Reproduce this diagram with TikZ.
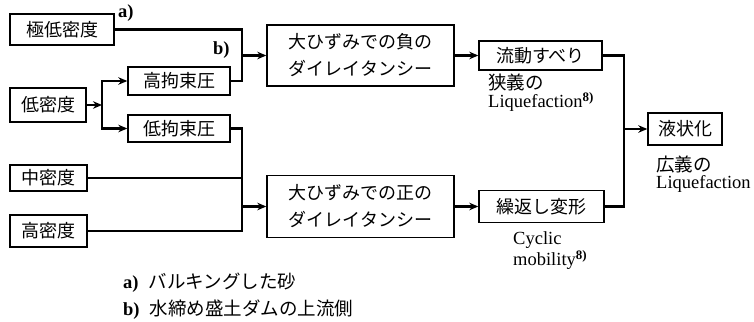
\documentclass[tikz,border=0pt]{standalone}
\usepackage{fontspec}
\setmainfont{Liberation Serif}
\newfontfamily\jp{Noto Sans CJK JP}
\usetikzlibrary{arrows.meta,calc}
\begin{document}
\begin{tikzpicture}[x=1pt,y=-1pt,
  font=\fontsize{18}{27}\selectfont,
  box/.style={draw,line width=1.4pt,inner sep=0pt,align=center,font=\fontsize{18}{27}\selectfont\jp},
  conn/.style={line width=2.2pt},
  arr/.style={conn,-{Stealth[length=9pt,width=7.5pt]}},
  lbl/.style={inner sep=0pt,anchor=west,align=left,font=\fontsize{18.5}{27}\selectfont}]
\useasboundingbox (0,0) rectangle (754,321);
% boxes
\node[box,minimum width=104pt,minimum height=31pt] (vld) at (62,29.5) {極低密度};
\node[box,minimum width=76pt,minimum height=34pt] (ld) at (48,105) {低密度};
\node[box,minimum width=77pt,minimum height=26pt] (md) at (48.5,178) {中密度};
\node[box,minimum width=77pt,minimum height=32pt] (hd) at (48.5,231) {高密度};
\node[box,minimum width=102pt,minimum height=28pt] (hc) at (179,81) {高拘束圧};
\node[box,minimum width=102pt,minimum height=27pt] (lc) at (179,128.5) {低拘束圧};
\node[box,minimum width=187pt,minimum height=61pt] (big1) at (360.5,55.5) {大ひずみでの負の\\ダイレイタンシー};
\node[box,minimum width=187pt,minimum height=62pt] (big2) at (360.5,206.5) {大ひずみでの正の\\ダイレイタンシー};
\node[box,minimum width=123pt,minimum height=29pt] (flow) at (540.5,55.5) {流動すべり};
\node[box,minimum width=125pt,minimum height=32pt] (cyc) at (541.5,206.5) {繰返し変形};
\node[box,minimum width=74pt,minimum height=32pt] (liq) at (685,129) {液状化};
% junctions
\coordinate (j1) at (242,55.5);
\coordinate (j2) at (102,105);
\coordinate (j3) at (242,206.5);
\coordinate (j3b) at (242,231);
\coordinate (j4) at (624,129);
% connectors
\draw[conn] (vld.east) -| (j1);
\draw[conn] (hc.east) -| (j1);
\draw[arr] (j1) -- (big1.west);
\draw[arr] (ld.east) -- (j2);
\draw[arr] (j2) |- (hc.west);
\draw[arr] (j2) |- (lc.west);
\draw[conn] (lc.east) -| (j3b) -- (hd.east);
\draw[conn] (md.east) -- (md.east -| j3b);
\draw[arr] (j3) -- (big2.west);
\draw[arr] (big1.east) -- (flow.west);
\draw[arr] (big2.east) -- (cyc.west);
\draw[conn] (flow.east) -| (j4);
\draw[conn] (cyc.east) -| (j4);
\draw[arr] (j4) -- (liq.west);
% labels
\node[lbl] (la) at (118,13) {\bfseries a)};
\node[lbl] (lb) at (213,50) {\bfseries b)};
\node[lbl] (n1) at (488,82) {\jp 狭義の};
\node[lbl] (n2) at (488,102) {Liquefaction\textsuperscript{\bfseries 8)}};
\node[lbl] (w1) at (656,164) {\jp 広義の};
\node[lbl] (w2) at (656,184) {Liquefaction};
\node[lbl] (c1) at (513,240) {Cyclic};
\node[lbl] (c2) at (513,260) {mobility\textsuperscript{\bfseries 8)}};
\node[lbl] (fa) at (123,283) {\textbf{a)}\hspace{10pt}{\jp バルキングした砂}};
\node[lbl] (fb) at (123,310) {\textbf{b)}\hspace{10pt}{\jp 水締め盛土ダムの上流側}};
\end{tikzpicture}
\end{document}
